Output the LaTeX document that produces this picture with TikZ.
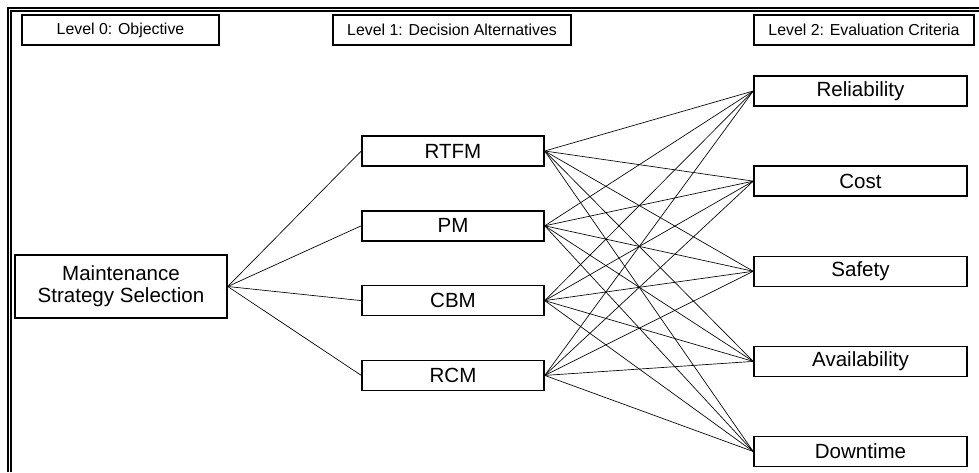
\documentclass[tikz,border=0pt]{standalone}
\usepackage{fontspec}
\setmainfont{Liberation Sans}
\usepackage{tikz}
\usetikzlibrary{positioning}
\tikzstyle{head} = [draw, rectangle, line width=1.1pt, minimum height=22.5pt, inner sep=0pt, font=\fontsize{11.9}{13}\selectfont]
\tikzstyle{box} = [draw, rectangle, line width=1.1pt, minimum height=22.5pt, inner sep=0pt, align=center, font=\fontsize{15.4}{16.5}\selectfont]
\tikzstyle{link} = [line width=0.5pt]

\begin{document}
\begin{tikzpicture}[x=0.75pt, y=-0.75pt]
    \useasboundingbox (0,0) rectangle (979,472);
    % Frame
    \draw [line width=0.8pt] (8,472) -- (8,8) -- (979,8);
    \draw [line width=0.8pt] (11,472) -- (11,11) -- (979,11);

    % Level headers
    \node (lev0) [head, minimum width=147.75pt] at (120.5,30) {Level 0: Objective};
    \node (lev1) [head, minimum width=178.5pt] at (452,30) {Level 1: Decision Alternatives};
    \node (lev2) [head, minimum width=165pt] at (864,30) {Level 2: Evaluation Criteria};

    % Objective
    \node (goal) [box, minimum width=159pt, minimum height=47.25pt] at (121,286.5) {Maintenance\\Strategy Selection};

    % Alternatives
    \node (rtfm) [box, minimum width=136.5pt] at (453,151) {RTFM};
    \node (pm) [box, minimum width=136.5pt, below=32.5pt of rtfm] {PM};
    \node (cbm) [box, minimum width=136.5pt, below=32.5pt of pm] {CBM};
    \node (rcm) [box, minimum width=136.5pt, below=32.5pt of cbm] {RCM};

    % Criteria
    \node (rel) [box, minimum width=159.75pt] at (860.5,91) {Reliability};
    \node (cost) [box, minimum width=159.75pt, below=44pt of rel] {Cost};
    \node (safety) [box, minimum width=159.75pt, below=44pt of cost] {Safety};
    \node (avail) [box, minimum width=159.75pt, below=44pt of safety] {Availability};
    \node (down) [box, minimum width=159.75pt, below=44pt of avail] {Downtime};

    % Objective to alternatives
    \draw [link] (goal.east) -- (rtfm.west);
    \draw [link] (goal.east) -- (pm.west);
    \draw [link] (goal.east) -- (cbm.west);
    \draw [link] (goal.east) -- (rcm.west);

    % Alternatives to criteria
    \draw [link] (rtfm.east) -- (rel.west);
    \draw [link] (rtfm.east) -- (cost.west);
    \draw [link] (rtfm.east) -- (safety.west);
    \draw [link] (rtfm.east) -- (avail.west);
    \draw [link] (rtfm.east) -- (down.west);
    \draw [link] (pm.east) -- (rel.west);
    \draw [link] (pm.east) -- (cost.west);
    \draw [link] (pm.east) -- (safety.west);
    \draw [link] (pm.east) -- (avail.west);
    \draw [link] (pm.east) -- (down.west);
    \draw [link] (cbm.east) -- (rel.west);
    \draw [link] (cbm.east) -- (cost.west);
    \draw [link] (cbm.east) -- (safety.west);
    \draw [link] (cbm.east) -- (avail.west);
    \draw [link] (cbm.east) -- (down.west);
    \draw [link] (rcm.east) -- (rel.west);
    \draw [link] (rcm.east) -- (cost.west);
    \draw [link] (rcm.east) -- (safety.west);
    \draw [link] (rcm.east) -- (avail.west);
    \draw [link] (rcm.east) -- (down.west);
\end{tikzpicture}
\end{document}
